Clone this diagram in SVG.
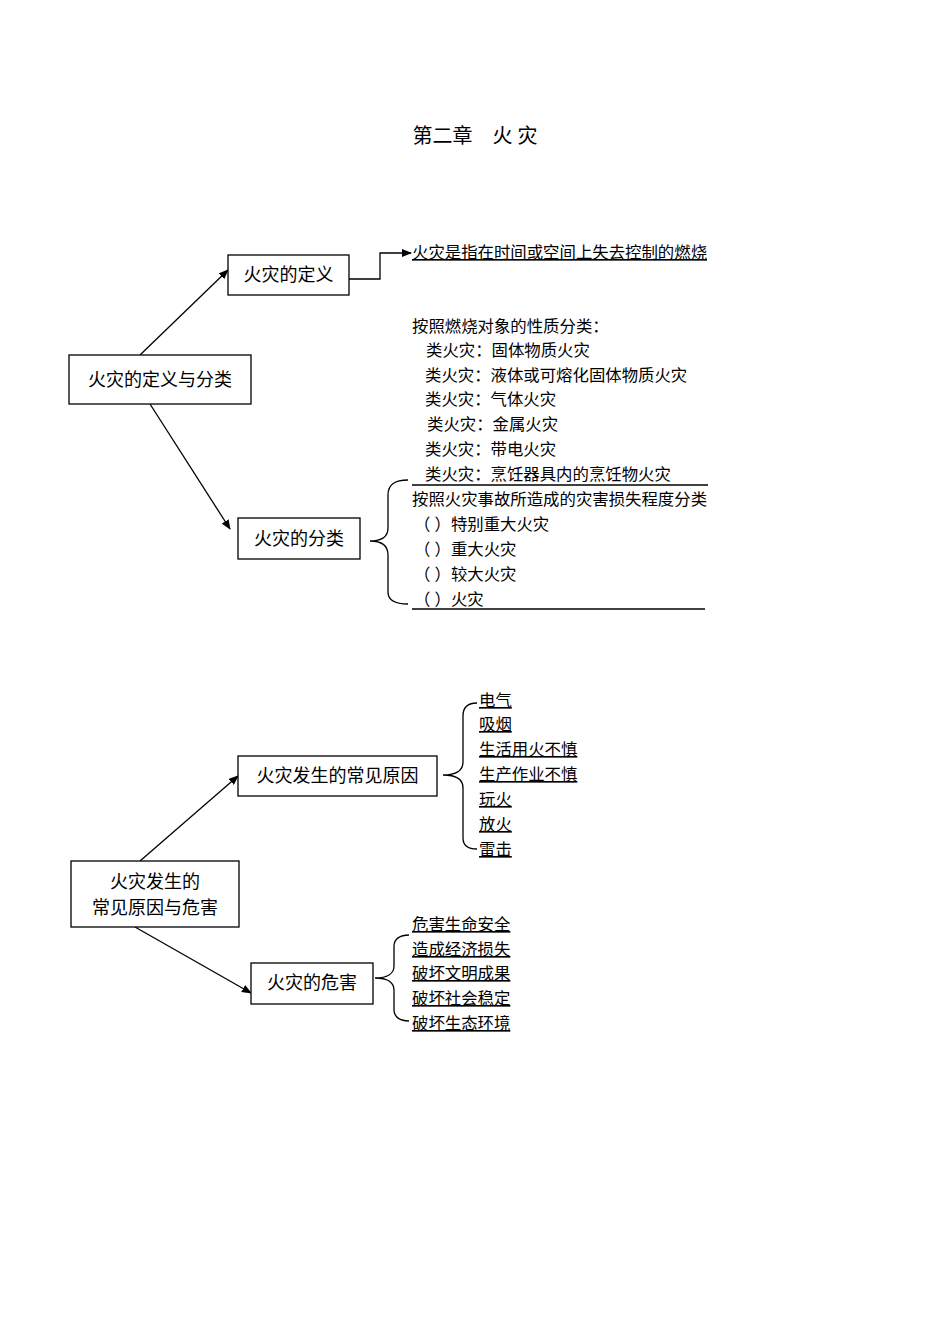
<svg xmlns="http://www.w3.org/2000/svg" width="950" height="1344" viewBox="0 0 950 1344">
<style>
text{font-family:"Liberation Serif","Noto Sans CJK SC",serif;fill:#000}
.s{font-size:16.4px}
.b{font-size:18px}
.u{text-decoration:underline}
.n rect{fill:#fff;stroke:#000;stroke-width:1.3}
.c line,.c path{stroke:#000;stroke-width:1.3;fill:none}
</style>
<defs><marker id="a" markerWidth="10" markerHeight="8" refX="9" refY="4" orient="auto" markerUnits="userSpaceOnUse"><path d="M0,0L10,4L0,8z" fill="#000"/></marker></defs>
<rect width="950" height="1344" fill="#fff"/>
<text x="475" y="143" font-size="20" text-anchor="middle">第二章　火 灾</text>
<g class="c">
<line x1="140" y1="355" x2="228" y2="270" marker-end="url(#a)"/>
<line x1="150" y1="404" x2="230" y2="529" marker-end="url(#a)"/>
<line x1="140" y1="861" x2="238" y2="776" marker-end="url(#a)"/>
<line x1="135" y1="927" x2="251" y2="993" marker-end="url(#a)"/>
<path d="M349,279H380V253H411" marker-end="url(#a)"/>
<path d="M408,480C395,480 388,484 388,495V528C388,537 382,541 370,541C382,541 388,546 388,555V592C388,600 395,604 408,604"/>
<path d="M477,703C468,703 463,707 463,716V762C463,770 458,775 443,775C458,775 463,780 463,788V838C463,845 468,849 477,849"/>
<path d="M409,935C400,935 394,939 394,946V966C394,973 388,978 375,978C388,978 394,983 394,990V1010C394,1017 400,1021 409,1021"/>
<line x1="412" y1="485" x2="708" y2="485"/>
<line x1="412" y1="609" x2="705" y2="609"/>
</g>
<g id="n1" class="n"><rect x="228" y="255" width="121" height="40"/><text class="b" x="288.5" y="281" text-anchor="middle">火灾的定义</text></g>
<g id="n0" class="n"><rect x="69" y="355" width="182" height="49"/><text class="b" x="160" y="386" text-anchor="middle">火灾的定义与分类</text></g>
<g id="n2" class="n"><rect x="238" y="518" width="122" height="41"/><text class="b" x="299" y="545" text-anchor="middle">火灾的分类</text></g>
<g id="n3" class="n"><rect x="238" y="756" width="199" height="40"/><text class="b" x="337.5" y="782" text-anchor="middle">火灾发生的常见原因</text></g>
<g id="n4" class="n"><rect x="71" y="861" width="168" height="66"/><text class="b" x="155" y="888" text-anchor="middle">火灾发生的</text><text class="b" x="155" y="914" text-anchor="middle">常见原因与危害</text></g>
<g id="n5" class="n"><rect x="251" y="963" width="122" height="41"/><text class="b" x="312" y="989" text-anchor="middle">火灾的危害</text></g>
<g id="t">
<text class="s u" x="412" y="258">火灾是指在时间或空间上失去控制的燃烧</text>
<text class="s" x="412" y="332">按照燃烧对象的性质分类：</text>
<text class="s" x="426" y="356">类火灾：固体物质火灾</text>
<text class="s" x="425" y="381">类火灾：液体或可熔化固体物质火灾</text>
<text class="s" x="425" y="405">类火灾：气体火灾</text>
<text class="s" x="427" y="430">类火灾：金属火灾</text>
<text class="s" x="425" y="455">类火灾：带电火灾</text>
<text class="s" x="425" y="480">类火灾：烹饪器具内的烹饪物火灾</text>
<text class="s" x="412" y="505">按照火灾事故所造成的灾害损失程度分类</text>
<text class="s" x="414" y="530">（ ）特别重大火灾</text>
<text class="s" x="414" y="555">（ ）重大火灾</text>
<text class="s" x="414" y="580">（ ）较大火灾</text>
<text class="s" x="414" y="605">（ ）火灾</text>
<text class="s u" x="479" y="706">电气</text>
<text class="s u" x="479" y="730">吸烟</text>
<text class="s u" x="479" y="755">生活用火不慎</text>
<text class="s u" x="479" y="780">生产作业不慎</text>
<text class="s u" x="479" y="805">玩火</text>
<text class="s u" x="479" y="830">放火</text>
<text class="s u" x="479" y="855">雷击</text>
<text class="s u" x="412" y="930">危害生命安全</text>
<text class="s u" x="412" y="955">造成经济损失</text>
<text class="s u" x="412" y="979">破坏文明成果</text>
<text class="s u" x="412" y="1004">破坏社会稳定</text>
<text class="s u" x="412" y="1029">破坏生态环境</text>
</g>
</svg>
